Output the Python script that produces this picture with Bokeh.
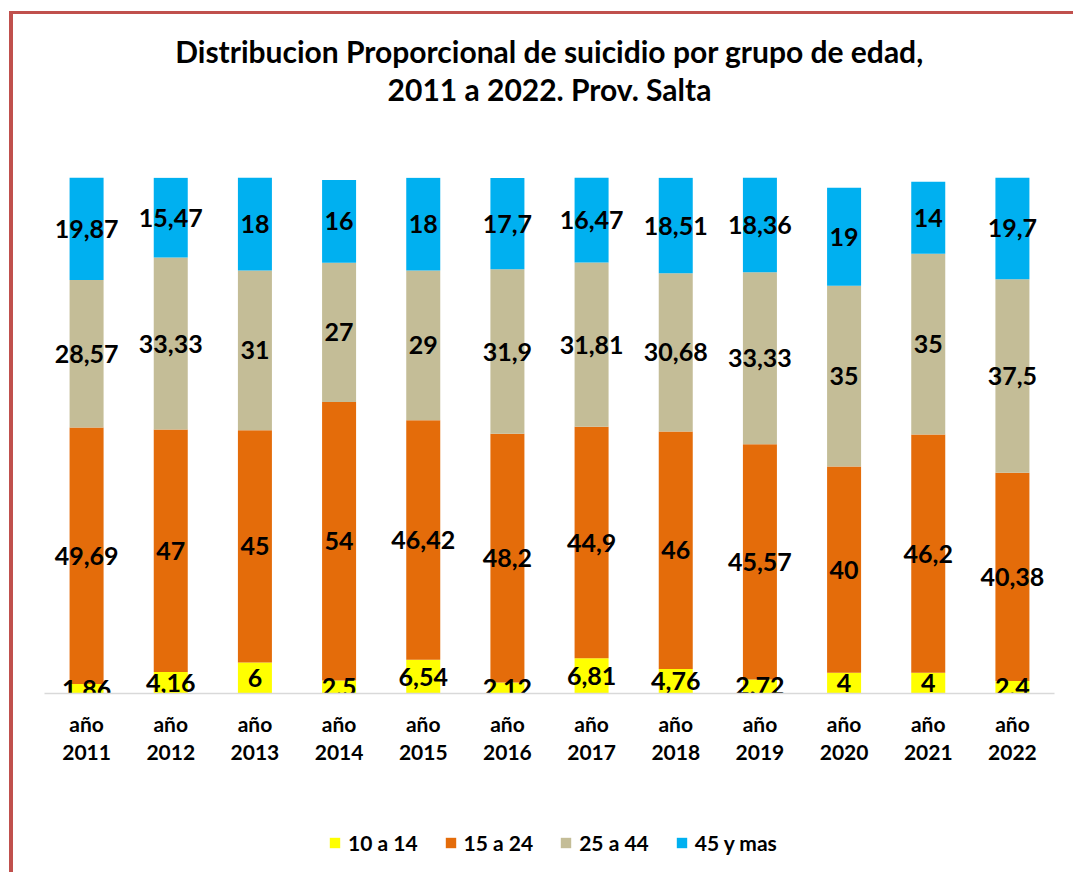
from bokeh.plotting import figure
from bokeh.layouts import column
from bokeh.models import (FactorRange, Range1d, Title, Legend, LegendItem, ColumnDataSource)
from bokeh.core.properties import value
from bokeh.embed import file_html
from bokeh.resources import INLINE

years = ["2011", "2012", "2013", "2014", "2015", "2016", "2017", "2018", "2019", "2020", "2021", "2022"]
g10_14 = [1.86, 4.16, 6, 2.5, 6.54, 2.12, 6.81, 4.76, 2.72, 4, 4, 2.4]
g15_24 = [49.69, 47, 45, 54, 46.42, 48.2, 44.9, 46, 45.57, 40, 46.2, 40.38]
g25_44 = [28.57, 33.33, 31, 27, 29, 31.9, 31.81, 30.68, 33.33, 35, 35, 37.5]
g45 = [19.87, 15.47, 18, 16, 18, 17.7, 16.47, 18.51, 18.36, 19, 14, 19.7]
series_names = ["10 a 14", "15 a 24", "25 a 44", "45 y mas"]
colors = ["#FFFF00", "#E46C0A", "#C4BD97", "#00B0F0"]
title_lines = ["Distribucion Proporcional de suicidio por grupo de edad,",
               "2011 a 2022. Prov. Salta"]

FONT = "Lato"
factors = ["año\n" + y for y in years]
keys = ["g1", "g2", "g3", "g4"]
series = [g10_14, g15_24, g25_44, g45]
data = {"x": factors}
for k, s in zip(keys, series):
    data[k] = s
src = ColumnDataSource(data)

W = 1060
HM = 790   # main chart
HL = 68    # legend strip
p = figure(x_range=FactorRange(*factors), y_range=Range1d(0, 100),
           width=W, height=HM, output_backend="svg", toolbar_location=None,
           min_border_left=31, min_border_right=19, min_border_top=163, min_border_bottom=111)
p.outline_line_color = None
p.xgrid.visible = False
p.ygrid.visible = False
p.yaxis.visible = False
p.background_fill_color = "white"
p.border_fill_color = "white"

p.vbar_stack(keys, x="x", width=0.404, color=colors, line_color=None, source=src)

# data labels
lab_x, lab_y, lab_t = [], [], []
for i, f in enumerate(factors):
    base = 0
    for s in series:
        v = s[i]
        lab_x.append(f)
        lab_y.append(base + v / 2)
        lab_t.append(str(v).replace(".", ","))
        base += v
p.text(x=lab_x, y=lab_y, text=lab_t, text_align="center", text_baseline="middle",
       text_font=value(FONT), text_font_style="bold", text_font_size="25px", text_color="black")

xa = p.xaxis[0]
xa.axis_line_color = "#D9D9D9"
xa.axis_line_width = 1.5
xa.major_tick_line_color = None
xa.minor_tick_line_color = None
xa.major_tick_out = 0
xa.major_tick_in = 0
xa.major_label_standoff = 17
xa.major_label_text_font = FONT
xa.major_label_text_font_style = "bold"
xa.major_label_text_font_size = "21px"
xa.major_label_text_color = "black"
xa.major_label_text_line_height = 1.13
xa.major_label_orientation = "horizontal"

# title: spacer nearest the frame, then second line, then first line
p.add_layout(Title(text=" ", text_font_size="1px", standoff=67), "above")
p.add_layout(Title(text=title_lines[1], align="center", text_font=FONT, text_font_style="bold",
                   text_font_size="30px", text_color="black", standoff=0.5), "above")
p.add_layout(Title(text=title_lines[0], align="center", text_font=FONT, text_font_style="bold",
                   text_font_size="30px", text_color="black", standoff=0), "above")

# legend strip (zero-height proxy bars; only the legend shows)
pl = figure(width=W, height=HL, output_backend="svg", toolbar_location=None,
            x_range=Range1d(0, 1), y_range=Range1d(0, 1), x_axis_type=None, y_axis_type=None,
            min_border=0, min_border_left=0, min_border_right=0, min_border_top=0, min_border_bottom=0)
pl.outline_line_color = None
pl.background_fill_color = "white"
pl.border_fill_color = "white"
items = []
for n, c in zip(series_names, colors):
    r = pl.vbar(x=[0.5], top=[0], bottom=[0], width=0.0, color=c, line_color=None)
    items.append(LegendItem(label=n, renderers=[r]))
legend = Legend(items=items, orientation="horizontal", location=(284, 17), padding=0, margin=0,
                glyph_width=13, glyph_height=13, label_standoff=7, spacing=26,
                label_text_font=FONT, label_text_font_style="bold", label_text_font_size="21px",
                label_text_color="black",
                border_line_color=None, background_fill_alpha=0)
pl.add_layout(legend, "center")

lay = column(p, pl, spacing=0)
lay.styles = {"border-left": "4px solid #C0504D", "border-top": "3px solid #C0504D",
              "margin-top": "11px", "margin-left": "9px", "background-color": "white"}

open("out.html", "w").write(file_html(lay, INLINE))
